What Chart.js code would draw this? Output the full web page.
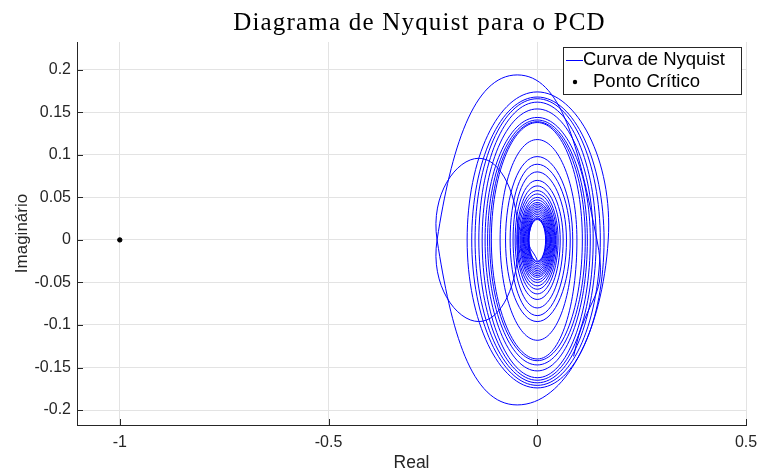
<!DOCTYPE html>
<html lang="pt">
<head>
  <meta charset="UTF-8">
  <title>Diagrama de Nyquist para o PCD</title>
  <script src="https://cdn.jsdelivr.net/npm/chart.js@4.4.0/dist/chart.umd.min.js"></script>
  <style>
    * { margin: 0; padding: 0; box-sizing: border-box; }
    body { background: #fff; width: 758px; height: 475px; overflow: hidden; }
    #wrap { position: relative; width: 758px; height: 475px; }
  </style>
</head>
<body>
<div id="wrap"><canvas id="nyq" width="758" height="475"></canvas></div>
<script>
// Nyquist curve: key points of each loop, in drawing order
// (right, top, left, bottom of each turn of the spiral)
const nyqRe = [
  0.087, 0.143, -0.048, -0.240, -0.140, -0.045, -0.140, -0.240, -0.048,
  0.170, 0, -0.168, 0,
  0.160, 0, -0.157, 0,
  0.151, 0, -0.149, 0,
  0.141, 0, -0.140, 0,
  0.134, 0, -0.132, 0,
  0.127, 0, -0.125, 0,
  0.120, 0, -0.119, 0,
  0.115, 0, -0.114, 0,
  0.108, 0, -0.110, 0,
  0.095, 0, -0.089, 0,
  0.085, 0, -0.076, 0,
  0.079, 0, -0.065, 0,
  0.070, 0, -0.058, 0,
  0.062, 0, -0.053, 0,
  0.055, 0, -0.049, 0,
  0.050, 0, -0.047, 0,
  0.047, 0, -0.044, 0,
  0.044, 0, -0.041, 0,
  0.042, 0, -0.039, 0,
  0.040, 0, -0.037, 0,
  0.038, 0, -0.035, 0,
  0.036, 0, -0.033, 0,
  0.034, 0, -0.031, 0,
  0.032, 0, -0.029, 0,
  0.030, 0, -0.027, 0,
  0.028, 0, -0.025, 0,
  0.026, 0, -0.023, 0,
  0.024, 0, -0.022, 0,
  0.022, 0, -0.021, 0,
  0.021, 0, -0.020, 0,
  0.020, 0, -0.020, 0
];
const nyqIm = [
  -0.137, 0, 0.194, 0, -0.096, 0, 0.096, 0, -0.194,
  0, 0.174, 0, -0.174,
  0, 0.168, 0, -0.171,
  0, 0.166, 0, -0.168,
  0, 0.162, 0, -0.165,
  0, 0.154, 0, -0.162,
  0, 0.144, 0, -0.154,
  0, 0.141, 0, -0.147,
  0, 0.139, 0, -0.142,
  0, 0.138, 0, -0.140,
  0, 0.118, 0, -0.118,
  0, 0.098, 0, -0.096,
  0, 0.089, 0, -0.089,
  0, 0.080, 0, -0.080,
  0, 0.070, 0, -0.070,
  0, 0.0635, 0, -0.0635,
  0, 0.058, 0, -0.058,
  0, 0.054, 0, -0.054,
  0, 0.050, 0, -0.050,
  0, 0.047, 0, -0.047,
  0, 0.044, 0, -0.044,
  0, 0.042, 0, -0.042,
  0, 0.040, 0, -0.040,
  0, 0.038, 0, -0.038,
  0, 0.036, 0, -0.036,
  0, 0.034, 0, -0.034,
  0, 0.032, 0, -0.032,
  0, 0.030, 0, -0.030,
  0, 0.028, 0, -0.028,
  0, 0.026, 0, -0.026,
  0, 0.025, 0, -0.025,
  0, 0.024, 0, -0.024
];
const critRe = [-1];
const critIm = [0];

const xTickValues = [-1, -0.5, 0, 0.5];
const yTickValues = [-0.2, -0.15, -0.1, -0.05, 0, 0.05, 0.1, 0.15, 0.2];
const xLimits = [-1.1025, 0.5];
const yLimits = [-0.2176, 0.2327];

const labels = { title: 'Diagrama de Nyquist para o PCD', x: 'Real', y: 'Imaginário',
  curve: 'Curva de Nyquist', point: 'Ponto Crítico' };

const AXIS = '#262626';
const SANS = '"Liberation Sans", Arial, sans-serif';

// title, inward tick marks and the legend box are drawn by hand (MATLAB look)
const decor = {
  id: 'decor',
  afterDatasetsDraw(chart) {
    const { ctx, chartArea: a, scales: { x, y } } = chart;
    ctx.save();
    ctx.strokeStyle = AXIS;
    ctx.lineWidth = 1;
    ctx.beginPath();
    xTickValues.forEach(v => {
      const px = Math.round(x.getPixelForValue(v)) + 0.5;
      ctx.moveTo(px, a.bottom); ctx.lineTo(px, a.bottom - 6);
    });
    yTickValues.forEach(v => {
      const py = Math.round(y.getPixelForValue(v)) + 0.5;
      ctx.moveTo(a.left, py); ctx.lineTo(a.left + 6, py);
    });
    ctx.stroke();

    // legend
    const lx = 563, ly = 47, lw = 178, lh = 47;
    ctx.fillStyle = '#fff';
    ctx.fillRect(lx, ly, lw, lh);
    ctx.strokeStyle = '#262626';
    ctx.strokeRect(lx + 0.5, ly + 0.5, lw, lh);
    ctx.strokeStyle = '#0000ff';
    ctx.beginPath();
    ctx.moveTo(lx + 3, ly + 13.5); ctx.lineTo(lx + 20, ly + 13.5);
    ctx.stroke();
    ctx.fillStyle = '#000';
    ctx.beginPath();
    ctx.arc(lx + 12, ly + 35, 2.2, 0, Math.PI * 2);
    ctx.fill();
    ctx.font = '18.5px ' + SANS;
    ctx.textBaseline = 'middle';
    ctx.fillText(labels.curve, lx + 20, ly + 13);
    ctx.fillText(labels.point, lx + 30, ly + 35);

    // title
    ctx.font = '25px "Liberation Serif", "Times New Roman", serif';
    ctx.letterSpacing = '1.2px';
    ctx.textAlign = 'center';
    ctx.fillStyle = '#000';
    ctx.fillText(labels.title, (a.left + a.right) / 2 + 8, 23);
    ctx.restore();
  }
};

new Chart(document.getElementById('nyq'), {
  type: 'scatter',
  data: {
    datasets: [
      {
        label: labels.curve,
        data: nyqRe.map((re, i) => ({ x: re, y: nyqIm[i] })),
        showLine: true,
        borderColor: '#0000ff',
        borderWidth: 1,
        pointRadius: 0,
        tension: 0.55
      },
      {
        label: labels.point,
        data: critRe.map((re, i) => ({ x: re, y: critIm[i] })),
        backgroundColor: '#000',
        borderColor: '#000',
        pointRadius: 2.2
      }
    ]
  },
  options: {
    responsive: false,
    animation: false,
    layout: { padding: { top: 42, right: 12, left: 0, bottom: 0 } },
    plugins: { legend: { display: false }, tooltip: { enabled: false } },
    scales: {
      x: {
        type: 'linear', min: xLimits[0], max: xLimits[1],
        afterBuildTicks: s => { s.ticks = xTickValues.map(v => ({ value: v })); },
        afterFit: s => { s.height = 50; s.paddingLeft = 0; s.paddingRight = 0; },
        grid: { color: '#e3e3e3', drawTicks: false },
        border: { display: true, color: AXIS, width: 1 },
        ticks: { color: AXIS, font: { family: SANS, size: 16 }, padding: 8, maxRotation: 0,
          callback: v => String(v) },
        title: { display: true, text: labels.x, color: AXIS, font: { family: SANS, size: 17.5 },
          padding: { top: 0, bottom: 1 } }
      },
      y: {
        type: 'linear', min: yLimits[0], max: yLimits[1],
        afterBuildTicks: s => { s.ticks = yTickValues.map(v => ({ value: v })); },
        afterFit: s => { s.width = 77; s.paddingTop = 0; s.paddingBottom = 0; },
        grid: { color: '#e3e3e3', drawTicks: false },
        border: { display: true, color: AXIS, width: 1 },
        ticks: { color: AXIS, font: { family: SANS, size: 16 }, padding: 6,
          callback: v => String(v) },
        title: { display: true, text: labels.y, color: AXIS, font: { family: SANS, size: 17 },
          padding: { top: 12, bottom: 0 } }
      }
    }
  },
  plugins: [decor]
});
</script>
</body>
</html>
